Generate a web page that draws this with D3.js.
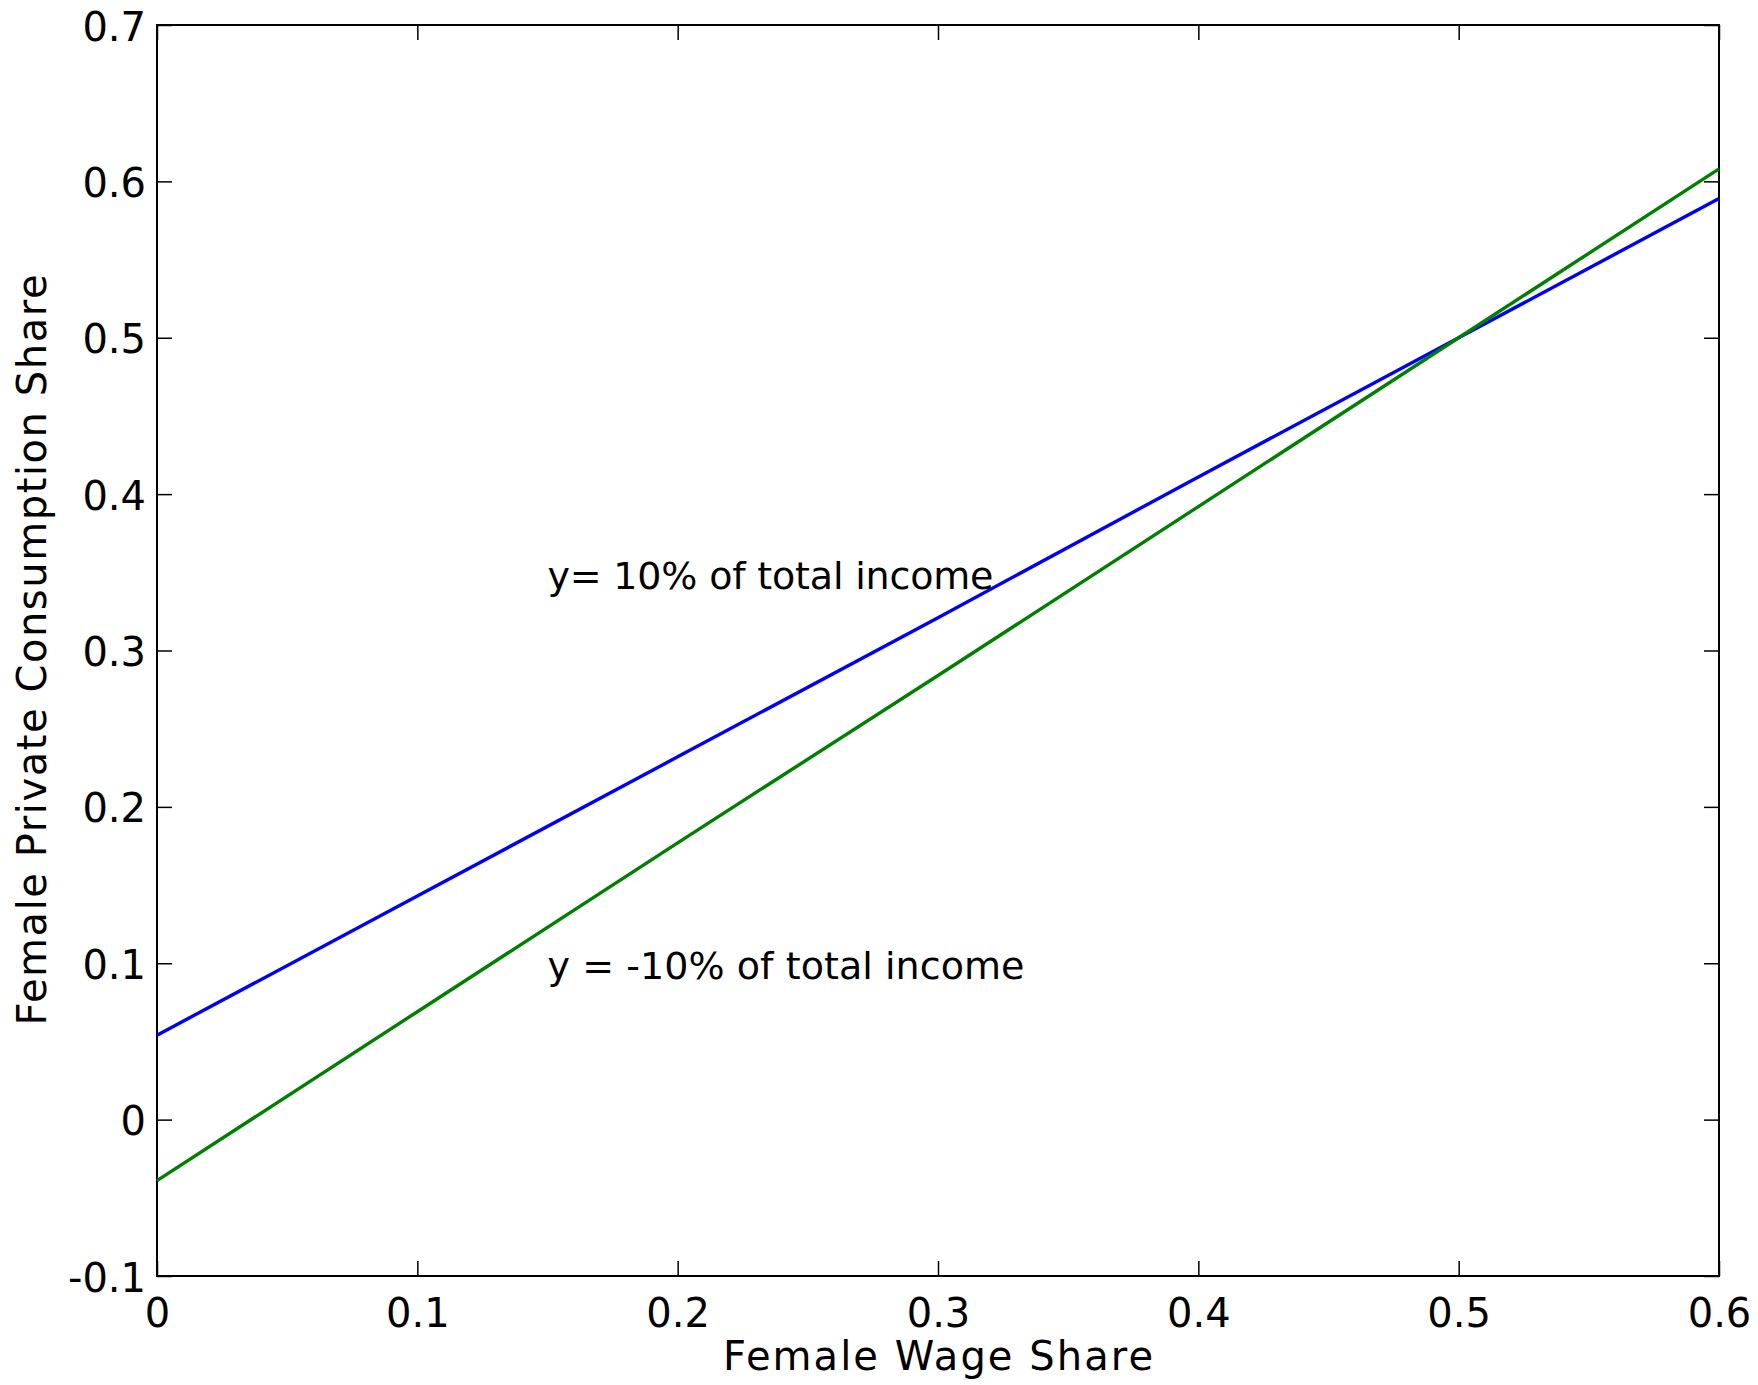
<!DOCTYPE html>
<html>
<head>
<meta charset="utf-8">
<script src="https://cdn.jsdelivr.net/npm/d3@7"></script>
<style>
  html, body { margin: 0; padding: 0; background: #fff; }
  svg { display: block; }
  text { font-family: "DejaVu Sans", sans-serif; fill: #000; }
</style>
</head>
<body>
<svg id="chart" width="1758" height="1385"></svg>
<script>
// ---- data ----
const wageShare = [0, 0.1, 0.2, 0.3, 0.4, 0.5, 0.6];
const consumptionPlus10 = [0.054, 0.143, 0.232, 0.321, 0.411, 0.500, 0.589];
const consumptionMinus10 = [-0.039, 0.069, 0.177, 0.284, 0.392, 0.500, 0.608];
const xTickValues = [0, 0.1, 0.2, 0.3, 0.4, 0.5, 0.6];
const xTickLabels = ["0", "0.1", "0.2", "0.3", "0.4", "0.5", "0.6"];
const yTickValues = [-0.1, 0, 0.1, 0.2, 0.3, 0.4, 0.5, 0.6, 0.7];
const yTickLabels = ["-0.1", "0", "0.1", "0.2", "0.3", "0.4", "0.5", "0.6", "0.7"];
const seriesNames = ["y= 10% of total income", "y = -10% of total income"];
const xLabel = "Female Wage Share";
const yLabel = "Female Private Consumption Share";

// ---- layout ----
const L = 157, R = 1719, T = 25, B = 1276;
const svg = d3.select("#chart");
const x = d3.scaleLinear().domain([0, 0.6]).range([L, R]);
const y = d3.scaleLinear().domain([-0.1, 0.7]).range([B, T]);

const tickLen = 15;
const fs = 40;

// box
svg.append("rect").attr("x", L).attr("y", T).attr("width", R - L).attr("height", B - T)
  .attr("fill", "none").attr("stroke", "#000").attr("stroke-width", 2);

const fmtX = (d, i) => xTickLabels[i];
const fmtY = (d, i) => yTickLabels[i];

const xBottom = svg.append("g").attr("transform", `translate(0,${B})`)
  .call(d3.axisBottom(x).tickValues(xTickValues).tickFormat(fmtX).tickSizeInner(-tickLen).tickSizeOuter(0).tickPadding(0));
const xTop = svg.append("g").attr("transform", `translate(0,${T})`)
  .call(d3.axisTop(x).tickValues(xTickValues).tickFormat("").tickSizeInner(-tickLen).tickSizeOuter(0));
const yLeft = svg.append("g").attr("transform", `translate(${L},0)`)
  .call(d3.axisLeft(y).tickValues(yTickValues).tickFormat(fmtY).tickSizeInner(-tickLen).tickSizeOuter(0).tickPadding(0));
const yRight = svg.append("g").attr("transform", `translate(${R},0)`)
  .call(d3.axisRight(y).tickValues(yTickValues).tickFormat("").tickSizeInner(-tickLen).tickSizeOuter(0));

[xBottom, xTop, yLeft, yRight].forEach(g => {
  g.select(".domain").remove();
  g.selectAll(".tick line").attr("stroke", "#000").attr("stroke-width", 1.5);
});

xBottom.selectAll(".tick text")
  .attr("font-family", "DejaVu Sans").attr("font-size", fs)
  .attr("dy", null).attr("y", 51).attr("fill", "#000");
yLeft.selectAll(".tick text")
  .attr("font-family", "DejaVu Sans").attr("font-size", fs)
  .attr("dy", null).attr("x", -11).attr("y", 15).attr("fill", "#000");

// lines
const line = d3.line().x((d, i) => x(wageShare[i])).y(d => y(d));
svg.append("path").datum(consumptionPlus10).attr("d", line)
  .attr("fill", "none").attr("stroke", "#0000ff").attr("stroke-width", 3.4);
svg.append("path").datum(consumptionMinus10).attr("d", line)
  .attr("fill", "none").attr("stroke", "#008000").attr("stroke-width", 3.4);

// annotations
svg.append("text").attr("x", x(0.15)).attr("y", y(0.3395)).attr("font-size", 38)
  .attr("textLength", 446).attr("lengthAdjust", "spacing").text(seriesNames[0]);
svg.append("text").attr("x", x(0.15)).attr("y", y(0.0898)).attr("font-size", 38)
  .attr("textLength", 477).attr("lengthAdjust", "spacing").text(seriesNames[1]);

// axis labels
svg.append("text").attr("x", (L + R) / 2).attr("y", 1370).attr("text-anchor", "middle")
  .attr("font-size", 40).attr("textLength", 430).attr("lengthAdjust", "spacing").text(xLabel);
svg.append("text").attr("transform", "translate(46,650) rotate(-90)").attr("text-anchor", "middle")
  .attr("font-size", 40).attr("textLength", 751).attr("lengthAdjust", "spacing").text(yLabel);
</script>
</body>
</html>
